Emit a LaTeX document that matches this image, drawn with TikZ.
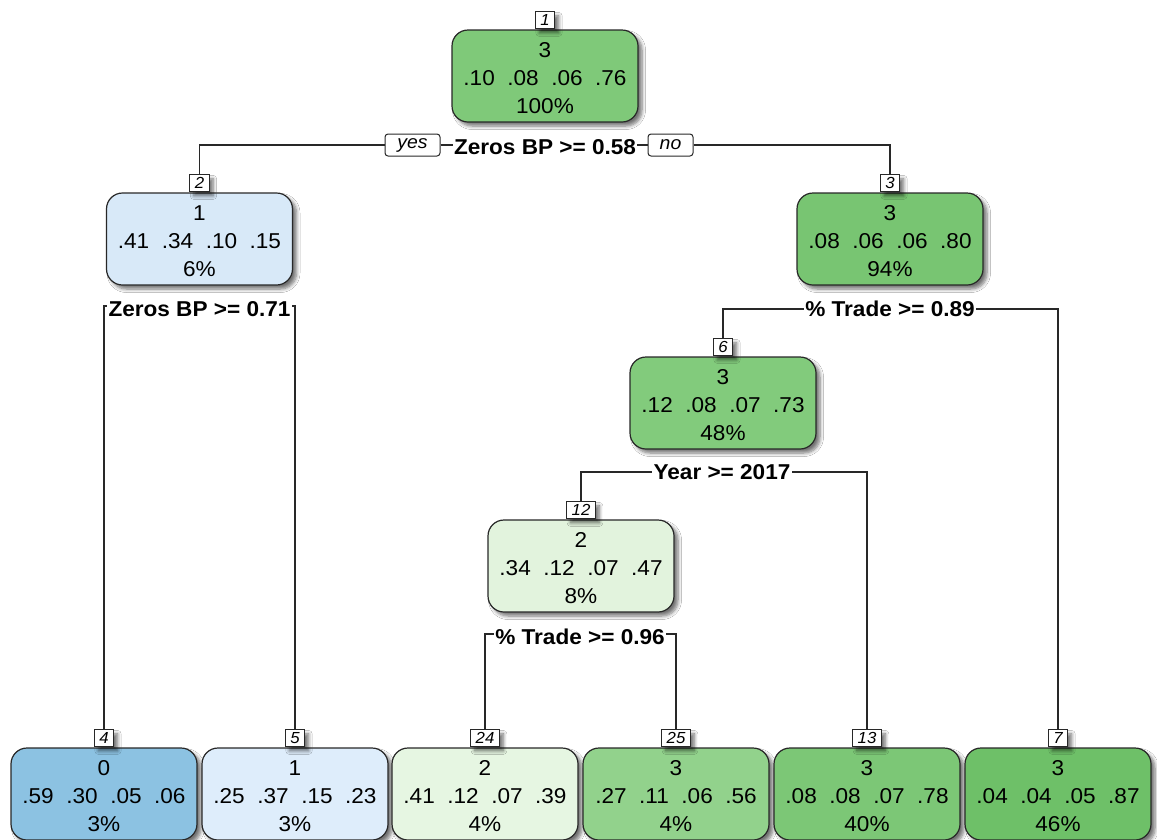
\documentclass[tikz,border=0pt]{standalone}
\usepackage{fontspec}
\setmainfont{Liberation Sans}[FakeStretch=1.05]
\usetikzlibrary{shadows.blur,backgrounds}

% fill colours of the boxes (class 0/1 in blues, class 2/3 in greens)
\definecolor{cA}{RGB}{140,194,226}  % class 0
\definecolor{cB}{RGB}{216,233,248}  % class 1, node 2
\definecolor{cBl}{RGB}{222,237,251} % class 1, leaf 5
\definecolor{cC}{RGB}{226,243,221}  % class 2, node 12
\definecolor{cCl}{RGB}{230,246,226} % class 2, leaf 24
\definecolor{cD56}{RGB}{146,210,140}
\definecolor{cD73}{RGB}{130,203,124}
\definecolor{cD76}{RGB}{127,201,121}
\definecolor{cD78}{RGB}{124,199,118}
\definecolor{cD80}{RGB}{120,197,114}
\definecolor{cD87}{RGB}{110,192,104}
\definecolor{edgegray}{RGB}{40,40,40}

\tikzset{
  shade box/.style={blur shadow={shadow xshift=4pt, shadow yshift=-4pt,
      shadow blur radius=3.5pt, shadow blur steps=6, shadow opacity=55}},
  treebox/.style={shade box, draw=edgegray, line width=1.2pt, rectangle,
      rounded corners=16pt, minimum width=186pt, minimum height=92pt,
      inner sep=0pt},
  boxtext/.style={align=center, inner sep=0pt,
      font=\fontsize{21.5}{28}\selectfont},
  numtag/.style={shade box, draw=edgegray, fill=white, line width=1pt,
      inner xsep=5pt, inner ysep=2.5pt, minimum height=17pt,
      font=\fontsize{16}{16}\selectfont\itshape},
  splitlabel/.style={fill=white, inner sep=1.5pt,
      font=\fontsize{21.5}{22}\selectfont\bfseries},
  answer/.style={draw=edgegray, fill=white, line width=1pt, rounded corners=3pt,
      minimum height=22pt, inner sep=0pt,
      font=\fontsize{18.5}{19}\selectfont\itshape},
  edge/.style={draw=edgegray, line width=1.2pt}
}

% name, x, y, fill, class, probabilities, percentage, node number
\newcommand{\treenode}[8]{%
  \node[treebox, fill=#4] (#1) at (#2,#3) {};
  \node[boxtext] (#1t) at (#2,#3+2) {#5\\#6\\#7};
  \node[numtag, anchor=south] (#1n) at (#1.north) {#8};
}

\begin{document}
\begin{tikzpicture}[x=1pt, y=-1pt]
  \useasboundingbox (0,0) rectangle (1157,839);

  % inner nodes
  \treenode{n1}{545}{76}{cD76}{3}{.10\ \ .08\ \ .06\ \ .76}{100\%}{1}
  \treenode{n2}{199.5}{239}{cB}{1}{.41\ \ .34\ \ .10\ \ .15}{6\%}{2}
  \treenode{n3}{890}{239}{cD80}{3}{.08\ \ .06\ \ .06\ \ .80}{94\%}{3}
  \treenode{n6}{723}{403}{cD73}{3}{.12\ \ .08\ \ .07\ \ .73}{48\%}{6}
  \treenode{n12}{581}{566}{cC}{2}{.34\ \ .12\ \ .07\ \ .47}{8\%}{12}

  % leaves
  \treenode{n4}{104}{794}{cA}{0}{.59\ \ .30\ \ .05\ \ .06}{3\%}{4}
  \treenode{n5}{295}{794}{cBl}{1}{.25\ \ .37\ \ .15\ \ .23}{3\%}{5}
  \treenode{n24}{485}{794}{cCl}{2}{.41\ \ .12\ \ .07\ \ .39}{4\%}{24}
  \treenode{n25}{676}{794}{cD56}{3}{.27\ \ .11\ \ .06\ \ .56}{4\%}{25}
  \treenode{n13}{867}{794}{cD78}{3}{.08\ \ .08\ \ .07\ \ .78}{40\%}{13}
  \treenode{n7}{1058}{794}{cD87}{3}{.04\ \ .04\ \ .05\ \ .87}{46\%}{7}

  % split conditions
  \node[splitlabel] (s1) at (545,147) {Zeros BP >= 0.58};
  \node[answer, minimum width=55pt] (yes) at (412.5,145) {yes};
  \node[answer, minimum width=45pt] (no) at (670.5,145) {no};
  \node[splitlabel] (s2) at (199.5,309) {Zeros BP >= 0.71};
  \node[splitlabel] (s3) at (890,309) {\% Trade >= 0.89};
  \node[splitlabel] (s6) at (722,472) {Year >= 2017};
  \node[splitlabel] (s12) at (580,637) {\% Trade >= 0.96};

  % white page, then the branches beneath the nodes
  \begin{scope}[on background layer]
    \fill[white] (0,0) rectangle (1157,839);
    \draw[edge] (n2n.north) |- (yes.west);
    \draw[edge] (yes.east) -- (no.west);
    \draw[edge] (no.east) -| (n3n.north);
    \draw[edge] (n4n.north) |- ([yshift=3pt]s2.center) -| (n5n.north);
    \draw[edge] (n6n.north) |- (s3.center) -| (n7n.north);
    \draw[edge] (n12n.north) |- (s6.center) -| (n13n.north);
    \draw[edge] (n24n.north) |- ([yshift=3pt]s12.center) -| (n25n.north);
  \end{scope}
\end{tikzpicture}
\end{document}
